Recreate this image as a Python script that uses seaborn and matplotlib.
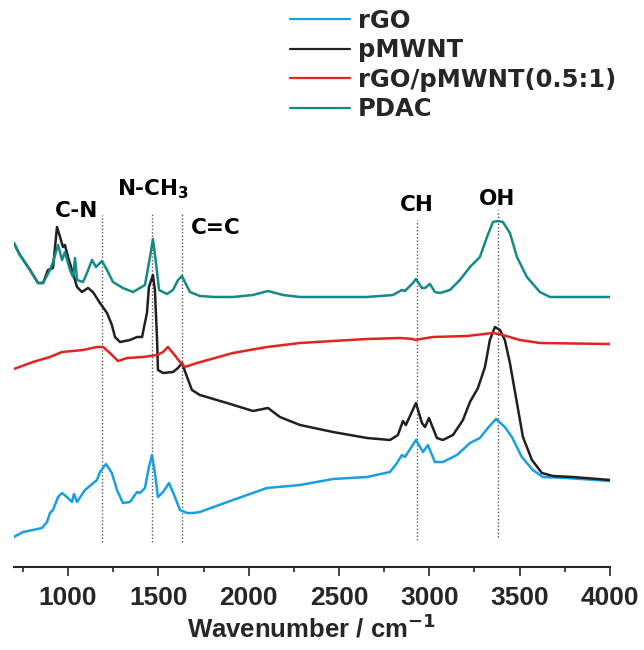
import pandas as pd
import seaborn as sns
import matplotlib.pyplot as plt
from matplotlib.ticker import MultipleLocator

# FTIR spectra (wavenumber in cm-1, intensity in arbitrary offset units)
rgo_wn = [700, 751, 806, 856, 884, 900, 917, 945, 967, 994, 1022, 1033, 1050, 1094, 1160, 1177,
          1210, 1243, 1271, 1304, 1343, 1382, 1398, 1426, 1448, 1465, 1481, 1498, 1526, 1559,
          1592, 1620, 1659, 1692, 1730, 1913, 2101, 2284, 2467, 2655, 2782, 2821, 2848, 2865,
          2926, 2965, 2992, 3031, 3075, 3153, 3225, 3280, 3324, 3369, 3418, 3457, 3512, 3573,
          3629, 3761, 4000]
rgo_int = [30, 35, 37, 39, 45, 54, 57, 70, 74, 70, 65, 73, 65, 77, 87, 95,
           103, 94, 77, 64, 65, 75, 74, 79, 100, 112, 94, 70, 75, 84,
           70, 57, 54, 54, 55, 67, 79, 82, 88, 90, 95, 104, 112, 110,
           127, 115, 122, 105, 105, 112, 124, 129, 139, 148, 140, 130, 110, 97,
           90, 89, 86]

pmwnt_wn = [700, 734, 790, 834, 862, 889, 917, 939, 956, 972, 983, 1000, 1022, 1050, 1077, 1111,
            1138, 1177, 1216, 1243, 1260, 1288, 1343, 1382, 1410, 1421, 1437, 1448, 1470, 1481,
            1493, 1498, 1526, 1581, 1609, 1631, 1659, 1686, 1730, 1880, 2024, 2107, 2173, 2284,
            2467, 2655, 2782, 2826, 2854, 2870, 2926, 2959, 2976, 2998, 3042, 3075, 3131, 3186,
            3225, 3269, 3308, 3335, 3363, 3391, 3418, 3446, 3485, 3518, 3568, 3623, 3684, 3795,
            4000]
pmwnt_int = [324, 312, 297, 284, 284, 297, 299, 340, 330, 320, 322, 310, 297, 280, 275, 279,
             275, 264, 254, 242, 230, 225, 227, 230, 230, 240, 254, 280, 292, 277,
             227, 197, 194, 195, 199, 204, 190, 177, 172, 164, 156, 159, 150, 142,
             135, 129, 127, 132, 146, 142, 164, 144, 140, 149, 129, 127, 132, 147,
             165, 179, 200, 227, 240, 237, 227, 204, 164, 130, 107, 94, 91, 90,
             87]

comp_wn = [700, 806, 900, 967, 1083, 1160, 1194, 1232, 1277, 1327, 1415, 1493, 1526, 1553, 1581,
           1620, 1647, 1714, 1913, 2101, 2284, 2467, 2655, 2837, 2909, 2920, 3020, 3208, 3352,
           3407, 3501, 3612, 4000]
comp_int = [198, 205, 210, 215, 217, 220, 220, 214, 206, 209, 210, 212, 215, 220, 214,
            205, 200, 204, 214, 220, 224, 226, 228, 229, 228, 227, 230, 231, 234,
            232, 227, 224, 223]

pdac_wn = [700, 734, 790, 834, 862, 900, 917, 945, 967, 983, 1011, 1028, 1039, 1050, 1083, 1105,
           1133, 1155, 1188, 1216, 1249, 1304, 1360, 1398, 1426, 1454, 1470, 1487, 1504, 1548,
           1581, 1609, 1631, 1647, 1675, 1730, 1813, 1913, 2024, 2107, 2190, 2284, 2655, 2799,
           2848, 2865, 2909, 2926, 2959, 2976, 3003, 3031, 3059, 3114, 3169, 3225, 3280, 3319,
           3352, 3380, 3407, 3446, 3485, 3540, 3612, 3667, 4000]
pdac_int = [324, 312, 297, 284, 284, 297, 305, 322, 307, 315, 297, 290, 309, 287, 285, 294,
            307, 300, 306, 297, 285, 279, 275, 279, 282, 310, 328, 304, 277, 273,
            277, 287, 291, 285, 275, 271, 270, 270, 272, 276, 272, 270, 270, 272,
            277, 276, 284, 288, 279, 279, 283, 275, 274, 277, 287, 300, 310, 330,
            345, 346, 345, 334, 310, 290, 275, 270, 270]

series_names = ["rGO", "pMWNT", "rGO/pMWNT(0.5:1)", "PDAC"]
series_colors = ["#1a9ee2", "#231f20", "#e3231f", "#138a88"]

# band assignments: label, line position, text position
band_labels = ["C-N", "N-CH$_3$", "C=C", "CH", "OH"]
band_lines = [1190, 1467, 1633, 2933, 3382]
band_line_top = [352, 354, 354, 347, 357]
band_line_bottom = [25, 25, 25, 27, 30]
band_text_x = [1050, 1472, 1819, 2929, 3374]
band_text_y = [350, 372, 333, 356, 362]

sns.set_theme(style="ticks")
plt.rcParams["font.family"] = ["Liberation Sans", "DejaVu Sans"]
plt.rcParams["font.weight"] = "bold"
plt.rcParams["mathtext.fontset"] = "custom"
plt.rcParams["mathtext.rm"] = "DejaVu Sans:bold"
plt.rcParams["mathtext.it"] = "DejaVu Sans:bold"
plt.rcParams["mathtext.bf"] = "DejaVu Sans:bold"
plt.rcParams["mathtext.default"] = "rm"

frames = []
for name, wn, inten in zip(series_names,
                           [rgo_wn, pmwnt_wn, comp_wn, pdac_wn],
                           [rgo_int, pmwnt_int, comp_int, pdac_int]):
    frames.append(pd.DataFrame({"Wavenumber": wn, "Intensity": inten, "Sample": name}))
df = pd.concat(frames, ignore_index=True)

fig = plt.figure(figsize=(6.44, 6.5), dpi=100)
ax = fig.add_axes([13.8 / 644, 1 - 567 / 650, (610 - 13.8) / 644, (567 - 170) / 650])

for x, lo, hi in zip(band_lines, band_line_bottom, band_line_top):
    ax.vlines(x, lo, hi, colors="#555555", linestyles=(0, (1, 1.5)), linewidth=1, zorder=1)

sns.lineplot(data=df, x="Wavenumber", y="Intensity", hue="Sample", hue_order=series_names,
             palette=dict(zip(series_names, series_colors)), estimator=None, sort=False,
             linewidth=1.8, ax=ax, zorder=3)

for lab, x, y in zip(band_labels, band_text_x, band_text_y):
    ax.text(x, y, lab, ha="center", va="baseline", fontsize=15.5, fontweight="bold",
            family="DejaVu Sans", color="black")

ax.set_xlim(700, 4000)
ax.set_ylim(0, 397)
ax.xaxis.set_minor_locator(MultipleLocator(250))
ax.set_xticks([1000, 1500, 2000, 2500, 3000, 3500, 4000])
ax.tick_params(axis="x", which="major", direction="out", length=6.5, width=1.2, labelsize=19, pad=7)
ax.tick_params(axis="x", which="minor", direction="out", length=3.5, width=1.2)
ax.set_yticks([])
for s in ["left", "top", "right"]:
    ax.spines[s].set_visible(False)
ax.spines["bottom"].set_linewidth(1.5)
ax.set_xlabel("Wavenumber / cm$^{-1}$", fontsize=18.5, fontweight="bold", labelpad=3)
ax.set_ylabel("")

old = ax.get_legend()
handles = old.legend_handles
labels = [t.get_text() for t in old.get_texts()]
old.remove()
for h in handles:
    h.set_linewidth(1.6)
fig.legend(handles, labels, loc="upper left", bbox_to_anchor=(290 / 644, 1 - 9 / 650),
           frameon=False, borderpad=0, borderaxespad=0, handlelength=2.45,
           handletextpad=0.33, labelspacing=0.22,
           prop={"weight": "bold", "size": 17.5, "family": "DejaVu Sans"})

fig.savefig("out.png", dpi=100)
